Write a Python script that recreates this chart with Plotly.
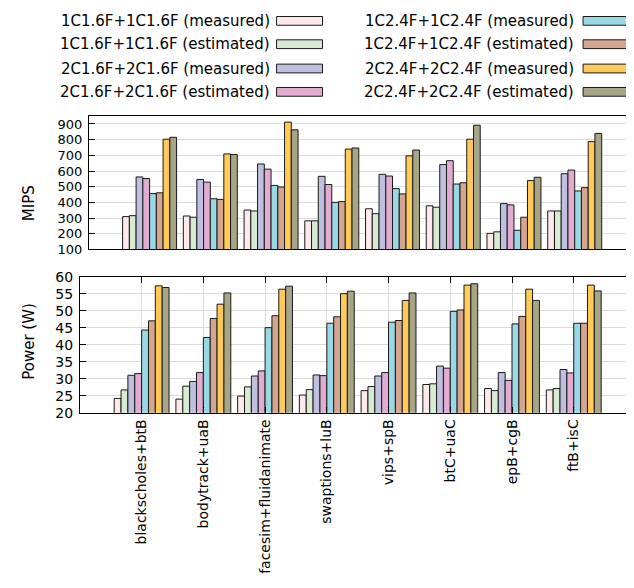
import plotly.graph_objects as go

# page is drawn with an 8px body margin; figure coordinates are page coords minus OFF
OFF = 8
W, H = 634 - OFF, 588 - OFF

categories = ["blackscholes+btB", "bodytrack+uaB", "facesim+fluidanimate", "swaptions+luB",
              "vips+spB", "btC+uaC", "epB+cgB", "ftB+isC"]

series_names = [
    "1C1.6F+1C1.6F (measured)", "1C1.6F+1C1.6F (estimated)",
    "2C1.6F+2C1.6F (measured)", "2C1.6F+2C1.6F (estimated)",
    "1C2.4F+1C2.4F (measured)", "1C2.4F+1C2.4F (estimated)",
    "2C2.4F+2C2.4F (measured)", "2C2.4F+2C2.4F (estimated)",
]
colors = ["#fde9eb", "#d9ead3", "#bfbfe0", "#e2acd0", "#9bd8e6", "#d4a690", "#ffca58", "#a6a586"]

# MIPS per series per category
mips_1c16_meas = [309, 313, 351, 282, 359, 378, 202, 345]
mips_1c16_est  = [315, 305, 345, 282, 328, 369, 212, 345]
mips_2c16_meas = [562, 546, 645, 566, 579, 641, 392, 583]
mips_2c16_est  = [552, 529, 612, 514, 568, 666, 384, 606]
mips_1c24_meas = [456, 423, 508, 400, 488, 517, 222, 473]
mips_1c24_est  = [461, 419, 498, 405, 454, 525, 305, 494]
mips_2c24_meas = [803, 709, 912, 740, 697, 803, 539, 788]
mips_2c24_est  = [815, 705, 863, 747, 734, 892, 560, 840]

# Power (W)
pow_1c16_meas = [24.2, 24.0, 24.9, 25.2, 26.5, 28.3, 27.1, 26.7]
pow_1c16_est  = [26.7, 27.8, 27.6, 26.8, 27.7, 28.5, 26.5, 27.1]
pow_2c16_meas = [31.0, 29.2, 30.8, 31.1, 30.8, 33.7, 31.8, 32.7]
pow_2c16_est  = [31.5, 31.8, 32.3, 30.9, 31.8, 33.1, 29.5, 31.7]
pow_1c24_meas = [44.3, 42.1, 45.0, 46.3, 46.6, 49.8, 46.1, 46.3]
pow_1c24_est  = [47.0, 47.7, 48.5, 48.2, 47.1, 50.2, 48.3, 46.3]
pow_2c24_meas = [57.3, 51.9, 56.3, 55.0, 53.0, 57.5, 56.3, 57.5]
pow_2c24_est  = [56.8, 55.2, 57.2, 55.7, 55.2, 57.9, 53.0, 55.8]

mips = [mips_1c16_meas, mips_1c16_est, mips_2c16_meas, mips_2c16_est,
        mips_1c24_meas, mips_1c24_est, mips_2c24_meas, mips_2c24_est]
power = [pow_1c16_meas, pow_1c16_est, pow_2c16_meas, pow_2c16_est,
         pow_1c24_meas, pow_1c24_est, pow_2c24_meas, pow_2c24_est]

mips_ticks = [100, 200, 300, 400, 500, 600, 700, 800, 900]
power_ticks = [20, 25, 30, 35, 40, 45, 50, 55, 60]

FONT = "DejaVu Sans"
fig = go.Figure()
for i, name in enumerate(series_names):
    fig.add_trace(go.Bar(x=categories, y=mips[i], name=name, marker_color=colors[i],
                         marker_line_color="#1a1a1a", marker_line_width=1,
                         xaxis="x", yaxis="y", showlegend=False))
for i, name in enumerate(series_names):
    fig.add_trace(go.Bar(x=categories, y=power[i], name=name, marker_color=colors[i],
                         marker_line_color="#1a1a1a", marker_line_width=1,
                         xaxis="x2", yaxis="y2", showlegend=False))

def px(x):
    return (x - OFF) / W

def py(y):
    return 1 - (y - OFF) / H

grid = "#dcdcdc"
xr = [-1, 7.96]
fig.update_layout(
    width=W, height=H, margin=dict(l=0, r=0, t=0, b=0),
    paper_bgcolor="white", plot_bgcolor="white",
    barmode="group", bargap=1/9, bargroupgap=0,
    font=dict(family=FONT, size=15, color="black"),
    xaxis=dict(domain=[px(89), 1.0], anchor="y", type="category", range=xr,
               showticklabels=False, ticks="", showgrid=False,
               showline=True, linecolor="black", linewidth=1, mirror=True),
    yaxis=dict(domain=[py(248), py(111)], anchor="x", range=[100, 950],
               tickvals=mips_ticks, ticks="inside", ticklen=6, tickcolor="black",
               showline=True, linecolor="black", linewidth=1, mirror="ticks",
               showgrid=True, gridcolor=grid, gridwidth=1, zeroline=False,
               tickfont=dict(size=13), ticklabelstandoff=3),
    xaxis2=dict(domain=[px(80), 1.0], anchor="y2", type="category", range=xr,
                tickangle=-90, ticks="inside", ticklen=6, tickcolor="black",
                showline=True, linecolor="black", linewidth=1, mirror="ticks",
                showgrid=True, gridcolor=grid, gridwidth=1,
                tickfont=dict(size=14)),
    yaxis2=dict(domain=[py(416), py(276)], anchor="x2", range=[20, 60],
                tickvals=power_ticks, ticks="inside", ticklen=6, tickcolor="black",
                showline=True, linecolor="black", linewidth=1, mirror="ticks",
                showgrid=True, gridcolor=grid, gridwidth=1, zeroline=False,
                tickfont=dict(size=14), ticklabelstandoff=3),
)

# axis titles
fig.add_annotation(x=px(18), y=py(180), xref="paper", yref="paper", text="MIPS",
                   textangle=-90, showarrow=False, font=dict(size=15))
fig.add_annotation(x=px(18), y=py(342), xref="paper", yref="paper", text="Power (W)",
                   textangle=-90, showarrow=False, font=dict(size=15))

# legend (text right-aligned, swatch on the right)
row_y = [13, 37, 62, 86]
cols = [(272, 277, 323), (577, 584, 631)]
for i, name in enumerate(series_names):
    c = i // 4
    r = i % 4
    tx, sx0, sx1 = cols[c]
    yc = row_y[r]
    fig.add_annotation(x=px(tx), y=py(yc), xref="paper", yref="paper", text=name,
                       xanchor="right", yanchor="middle", showarrow=False,
                       font=dict(size=15))
    fig.add_shape(type="rect", xref="paper", yref="paper",
                  x0=px(sx0), x1=px(sx1), y0=py(yc + 4.5), y1=py(yc - 4.5),
                  fillcolor=colors[i], line=dict(color="#1a1a1a", width=1))

fig.write_html("out.html")
